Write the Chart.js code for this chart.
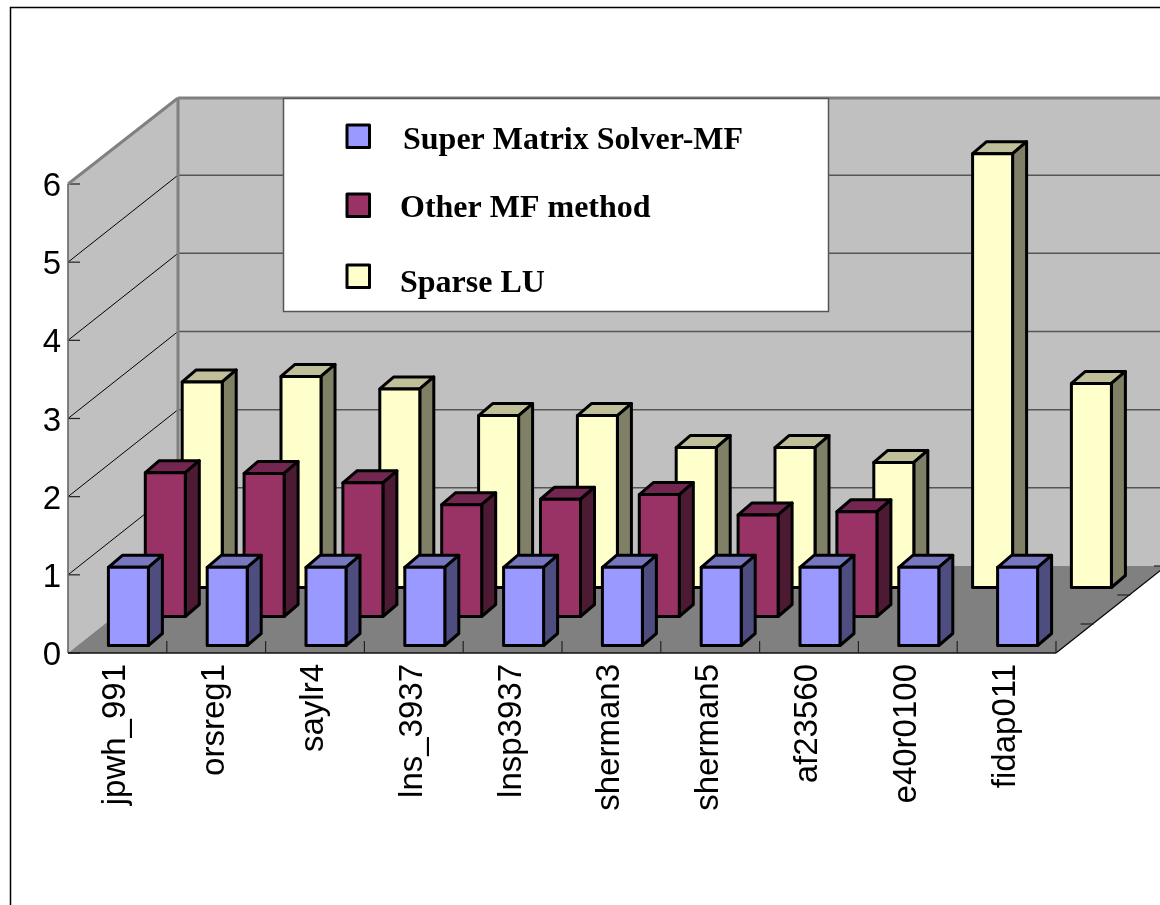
<!DOCTYPE html>
<html>
<head>
<meta charset="utf-8">
<title>Chart</title>
<script src="https://cdn.jsdelivr.net/npm/chart.js@4"></script>
<style>
  html, body { margin: 0; padding: 0; background: #fff; overflow: hidden; }
  canvas { display: block; }
</style>
</head>
<body>
<canvas id="chart" width="1160" height="905"></canvas>
<script>
const categories = ['jpwh_991', 'orsreg1', 'saylr4', 'lns_3937', 'lnsp3937', 'sherman3', 'sherman5', 'af23560', 'e40r0100', 'fidap011'];
const superMatrix = [1, 1, 1, 1, 1, 1, 1, 1, 1, 1];
const otherMf = [1.84, 1.83, 1.71, 1.43, 1.50, 1.56, 1.30, 1.34, null, null];
const sparseLu = [2.63, 2.70, 2.54, 2.20, 2.20, 1.79, 1.79, 1.60, 5.55, 2.61];

const seriesNames = ['Super Matrix Solver-MF', 'Other MF method', 'Sparse LU'];
const frontColors = ['#9999ff', '#993366', '#ffffcc'];
const sideColors = ['#4d4d80', '#4d1a33', '#808066'];
const topColors = ['#7777bf', '#732650', '#bfbf99'];

// oblique depth of the box, and of a single bar
const DEPTH_X = 110, DEPTH_Y = 87;
const BAR_DX = 14, BAR_DY = 12;

function line(ctx, x1, y1, x2, y2, color, width) {
    ctx.strokeStyle = color;
    ctx.lineWidth = width;
    ctx.beginPath();
    ctx.moveTo(x1, y1);
    ctx.lineTo(x2, y2);
    ctx.stroke();
}

function poly(ctx, pts, fill, stroke, width) {
    ctx.beginPath();
    pts.forEach((p, i) => i ? ctx.lineTo(p[0], p[1]) : ctx.moveTo(p[0], p[1]));
    ctx.closePath();
    if (fill) {
        ctx.fillStyle = fill;
        ctx.fill();
    }
    if (stroke) {
        ctx.strokeStyle = stroke;
        ctx.lineWidth = width;
        ctx.lineJoin = 'round';
        ctx.stroke();
    }
}

const boxPlugin = {
    id: 'box',
    beforeDatasetsDraw(chart) {
        const ctx = chart.ctx;
        const { left, right, top, bottom } = chart.chartArea;
        const xs = chart.scales.x, ys = chart.scales.y;
        const backL = left + DEPTH_X, backB = bottom - DEPTH_Y, backT = top - DEPTH_Y + 1;
        const backR = right + DEPTH_X;
        ctx.save();

        // page frame, it runs off the picture on the right and bottom
        ctx.strokeStyle = '#000';
        ctx.lineWidth = 1.5;
        ctx.strokeRect(10.5, 7.5, 1300, 1000);

        // walls and floor
        poly(ctx, [[backL, backT], [backR + 20, backT], [backR + 20, backB], [backL, backB]], '#c0c0c0');
        poly(ctx, [[left, top], [backL, backT], [backL, backB], [left, bottom]], '#c0c0c0');
        poly(ctx, [[left, bottom], [backL, backB], [backR, backB], [right, bottom]], '#808080');

        // gridlines, left wall then back wall
        ys.ticks.forEach(t => {
            const y = ys.getPixelForValue(t.value);
            if (t.value > 0 && t.value < 6) {
                line(ctx, left, y, backL, y - DEPTH_Y, '#000', 1);
                line(ctx, backL, y - DEPTH_Y, 1165, y - DEPTH_Y, '#555', 1.5);
            }
            line(ctx, left, y, left + 12, y, '#222', 1.2);
        });

        // box edges
        line(ctx, left, top, backL, backT, '#808080', 3);
        line(ctx, backL, backT, 1165, backT, '#808080', 3);
        line(ctx, backL, backT, backL, backB, '#808080', 3);
        line(ctx, left, top, left, bottom, '#666', 1.6);
        line(ctx, left, bottom, right, bottom, '#111', 1.6);
        line(ctx, right, bottom, backR, backB, '#000', 1.2);

        // category ticks along the front edge
        const step = (right - left) / categories.length;
        for (let i = 1; i <= categories.length; i++) {
            const x = xs.getPixelForValue(i - 1) + step / 2;
            line(ctx, x, bottom, x, bottom - 12, '#222', 1.2);
        }

        // series ticks along the right edge of the floor
        for (let i = 1; i <= 3; i++) {
            const x = right + DEPTH_X * i / 3, y = bottom - DEPTH_Y * i / 3;
            line(ctx, x + 1, y, x - 12, y, '#222', 1.2);
        }
        ctx.restore();
    },
    beforeDatasetDraw(chart, args) {
        const ctx = chart.ctx;
        const i = args.index;
        const offX = 11 + 36.9 * i;
        const offY = 7.5 + DEPTH_Y / 3 * i;
        ctx.save();
        args.meta.data.forEach((bar, n) => {
            if (chart.data.datasets[i].data[n] === null) return;
            const x0 = bar.x - bar.width / 2 + offX;
            const x1 = bar.x + bar.width / 2 + offX;
            const yT = bar.y - offY;
            const yB = bar.base - offY;
            poly(ctx, [[x0, yT], [x0 + BAR_DX, yT - BAR_DY], [x1 + BAR_DX, yT - BAR_DY], [x1, yT]], topColors[i], '#000', 3);
            poly(ctx, [[x1, yT], [x1 + BAR_DX, yT - BAR_DY], [x1 + BAR_DX, yB - BAR_DY], [x1, yB]], sideColors[i], '#000', 3);
            poly(ctx, [[x0, yT], [x1, yT], [x1, yB], [x0, yB]], frontColors[i], '#000', 3);
        });
        ctx.restore();
        return false;
    },
    afterDraw(chart) {
        const ctx = chart.ctx;
        ctx.save();
        // legend box
        ctx.fillStyle = '#fff';
        ctx.fillRect(283.5, 98.5, 545, 213);
        ctx.strokeStyle = '#555';
        ctx.lineWidth = 1.5;
        ctx.strokeRect(283.5, 98.5, 545, 213);

        const keyY = [125, 194, 265];
        const textX = [403, 400, 400];
        const textY = [149, 217, 292];
        ctx.font = 'bold 32px "Liberation Serif"';
        ctx.textAlign = 'left';
        ctx.textBaseline = 'alphabetic';
        seriesNames.forEach((name, i) => {
            poly(ctx, [[347, keyY[i]], [369.5, keyY[i]], [369.5, keyY[i] + 22.5], [347, keyY[i] + 22.5]], frontColors[i], '#000', 3);
            ctx.fillStyle = '#000';
            ctx.fillText(name, textX[i], textY[i]);
        });
        ctx.restore();
    }
};

new Chart(document.getElementById('chart'), {
    type: 'bar',
    data: {
        labels: categories,
        datasets: [
            { label: seriesNames[0], data: superMatrix, backgroundColor: frontColors[0] },
            { label: seriesNames[1], data: otherMf, backgroundColor: frontColors[1] },
            { label: seriesNames[2], data: sparseLu, backgroundColor: frontColors[2] }
        ]
    },
    options: {
        responsive: false,
        animation: false,
        layout: { padding: { left: 0, right: 104, top: 184, bottom: 0 } },
        datasets: { bar: { grouped: false, barThickness: 40 } },
        plugins: { legend: { display: false }, title: { display: false }, tooltip: { enabled: false } },
        scales: {
            x: {
                grid: { display: false },
                border: { display: false },
                afterFit(s) { s.height = 252; },
                ticks: {
                    autoSkip: false,
                    minRotation: 90,
                    maxRotation: 90,
                    padding: 3,
                    labelOffset: -1,
                    color: '#000',
                    font: { family: '"Liberation Sans"', size: 33 }
                }
            },
            y: {
                min: 0,
                max: 6,
                grid: { display: false },
                border: { display: false },
                afterFit(s) { s.width = 68; },
                ticks: {
                    stepSize: 1,
                    padding: -1,
                    labelOffset: 3,
                    color: '#000',
                    font: { family: '"Liberation Sans"', size: 33 }
                }
            }
        }
    },
    plugins: [boxPlugin]
});
</script>
</body>
</html>
